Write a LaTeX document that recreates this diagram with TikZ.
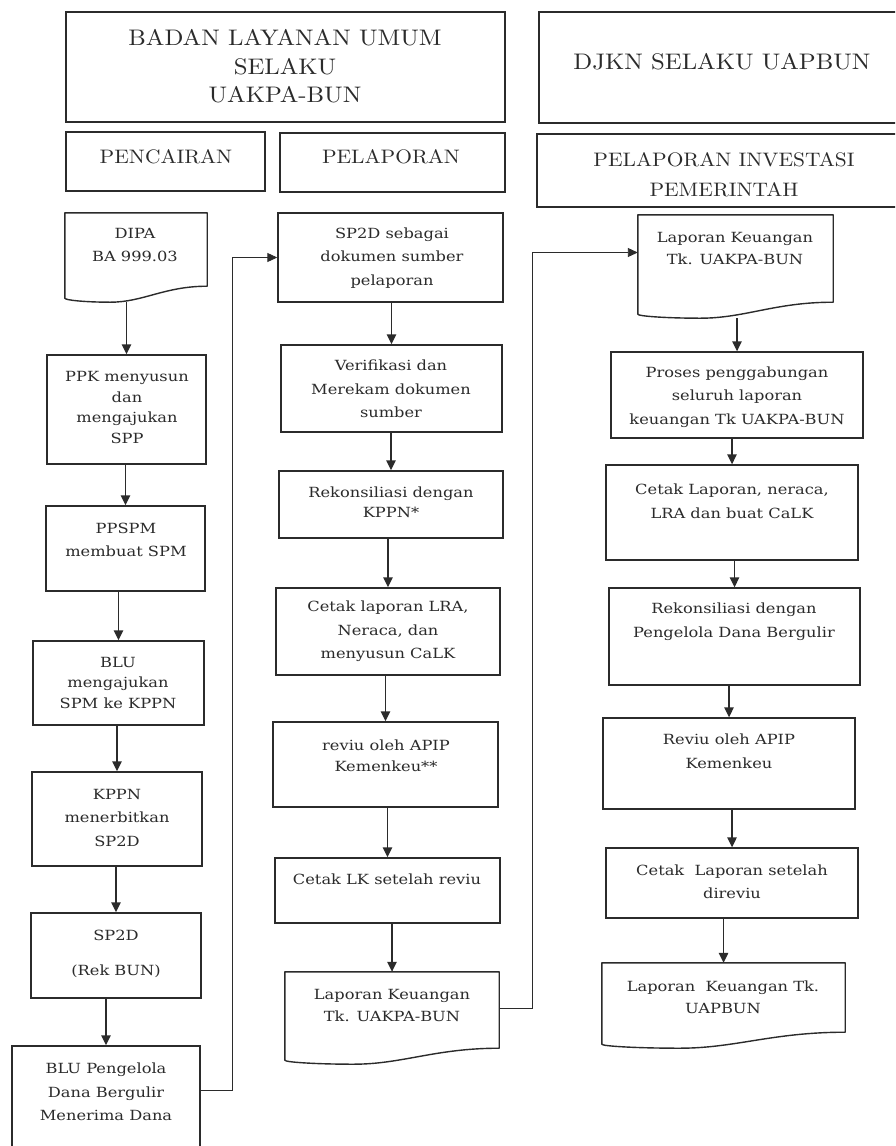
\documentclass[tikz,border=0pt]{standalone}
\usepackage{fontspec}
\newfontfamily\bodyfont{DejaVu Serif}[FakeStretch=1.16]
\newfontfamily\headfont{lmroman10-regular}[Extension=.otf, FakeStretch=1.1]
\usetikzlibrary{arrows.meta,calc}
\definecolor{ink}{HTML}{2B2B2B}
\tikzset{
  box/.style={draw=ink, line width=1.4pt, inner sep=0pt},
  hbox/.style={draw=ink, line width=1.7pt, inner sep=0pt},
  docbox/.style={inner sep=0pt},
  docline/.style={draw=ink, line width=1.4pt, line join=round},
  txt/.style={font=\bodyfont\fontsize{14}{23.5}\selectfont, align=center, text=ink, inner sep=0pt},
  htxt/.style={font=\headfont\fontsize{22.5}{28.5}\selectfont, align=center, text=ink, inner sep=0pt},
  stxt/.style={font=\headfont\fontsize{19.5}{30}\selectfont, align=center, text=ink, inner sep=0pt},
  flow/.style={draw=ink, line width=1.5pt, -{Triangle[length=10pt,width=9.5pt]}},
  backflow/.style={draw=ink, line width=0.9pt, -{Triangle[length=10pt,width=9pt]}}
}
% document symbol: straight top and sides, wavy bottom edge
\newcommand\docoutline[1]{%
  \draw[docline] (#1.north west) -- (#1.north east) -- ($(#1.south east)+(0,-16)$)
    .. controls ($(#1.south east)!0.3!(#1.south west)+(0,-16)$) and ($(#1.south east)!0.45!(#1.south west)$) ..
    ($(#1.south east)!0.68!(#1.south west)$)
    .. controls ($(#1.south east)!0.85!(#1.south west)$) and ($(#1.south west)+(0,-2)$) ..
    ($(#1.south west)+(0,-4)$) -- cycle;}
\begin{document}
\begin{tikzpicture}[x=1pt,y=-1pt]
\useasboundingbox (0,0) rectangle (895,1146);
\fill[white] (0,0) rectangle (895,1146);
\clip (0,0) rectangle (895,1146);

% ---- headers
\node[hbox, minimum width=439, minimum height=110] (hblu) at (285.5,67) {};
\node[htxt] (hblu-t) at (285,66.5) {BADAN LAYANAN UMUM\\SELAKU\\UAKPA-BUN};
\node[hbox, minimum width=366, minimum height=111] (hdjkn) at (722,67.5) {};
\node[htxt] (hdjkn-t) at (722,62) {DJKN SELAKU UAPBUN};
\node[hbox, minimum width=199, minimum height=59] (hpen) at (165.5,161.5) {};
\node[stxt] (hpen-t) at (166,157) {PENCAIRAN};
\node[hbox, minimum width=225, minimum height=59] (hpel) at (392.5,162.5) {};
\node[stxt] (hpel-t) at (391,157) {PELAPORAN};
\node[hbox, minimum width=376, minimum height=73] (hpip) at (725,170.5) {};
\node[stxt] (hpip-t) at (724,175) {PELAPORAN INVESTASI\\PEMERINTAH};

% ---- column 1: pencairan
\node[docbox, minimum width=142, minimum height=89] (dipa) at (136,257.5) {};
\docoutline{dipa}
\node[txt] (dipa-t) at (135,245) {DIPA\\BA 999.03};
\node[box, minimum width=159, minimum height=109] (ppk) at (126.5,409.5) {};
\node[txt] (ppk-t) at (127,407.5) {PPK menyusun\\[-3pt]dan\\[-3pt]mengajukan\\[-3pt]SPP};
\node[box, minimum width=159, minimum height=85] (ppspm) at (125.5,548.5) {};
\node[txt] (ppspm-t) at (126,540) {PPSPM\\membuat SPM};
\node[box, minimum width=171, minimum height=84] (blum) at (118.5,683) {};
\node[txt] (blum-t) at (118,682.5) {BLU\\[-3pt]mengajukan\\[-3pt]SPM ke KPPN};
\node[box, minimum width=170, minimum height=94] (kppn) at (117,819) {};
\node[txt] (kppn-t) at (117,817.5) {KPPN\\menerbitkan\\SP2D};
\node[box, minimum width=170, minimum height=85] (sp2d) at (116,955.5) {};
\node[txt] (sp2d-t) at (116,954) {SP2D\\[12pt](Rek BUN)};
\node[box, minimum width=188, minimum height=104] (blup) at (106,1098) {};
\node[txt] (blup-t) at (106,1092) {BLU Pengelola\\Dana Bergulir\\Menerima Dana};

% ---- column 2: pelaporan
\node[box, minimum width=225, minimum height=89] (sp2ds) at (390.5,257.5) {};
\node[txt] (sp2ds-t) at (392,258) {SP2D sebagai\\dokumen sumber\\pelaporan};
\node[box, minimum width=221, minimum height=87] (verif) at (391.5,388.5) {};
\node[txt] (verif-t) at (391,389) {Verifikasi dan\\Merekam dokumen\\sumber};
\node[box, minimum width=224, minimum height=67] (rekon) at (391,504.5) {};
\node[txt] (rekon-t) at (391,502.5) {Rekonsiliasi dengan\\[-3pt]KPPN*};
\node[box, minimum width=224, minimum height=87] (cetak) at (388,631.5) {};
\node[txt] (cetak-t) at (388,631.5) {Cetak laporan LRA,\\Neraca, dan\\menyusun CaLK};
\node[box, minimum width=225, minimum height=85] (reviu) at (385.5,764.5) {};
\node[txt] (reviu-t) at (386,756) {reviu oleh APIP\\[-2pt]Kemenkeu**};
\node[box, minimum width=225, minimum height=65] (cetlk) at (387.5,890.5) {};
\node[txt] (cetlk-t) at (387,879) {Cetak LK setelah reviu};
\node[docbox, minimum width=214, minimum height=92] (lapa) at (392,1018) {};
\docoutline{lapa}
\node[txt] (lapa-t) at (392,1005.5) {Laporan Keuangan\\[-2pt]Tk. UAKPA-BUN};

% ---- column 3: pelaporan investasi pemerintah
\node[docbox, minimum width=195, minimum height=103] (lapc) at (735.5,266.5) {};
\docoutline{lapc}
\node[txt] (lapc-t) at (735,248.5) {Laporan Keuangan\\[-1pt]Tk. UAKPA-BUN};
\node[box, minimum width=252, minimum height=86] (proses) at (737,395) {};
\node[txt] (proses-t) at (737,397) {Proses penggabungan\\seluruh laporan\\keuangan Tk UAKPA-BUN};
\node[box, minimum width=252, minimum height=95] (cetakl) at (732,512.5) {};
\node[txt] (cetakl-t) at (732,501.5) {Cetak Laporan, neraca,\\LRA dan buat CaLK};
\node[box, minimum width=251, minimum height=97] (rekon3) at (734.5,636.5) {};
\node[txt] (rekon3-t) at (734,621.5) {Rekonsiliasi dengan\\Pengelola Dana Bergulir};
\node[box, minimum width=252, minimum height=91] (reviu3) at (729,763.5) {};
\node[txt] (reviu3-t) at (729,751.5) {Reviu oleh APIP\\Kemenkeu};
\node[box, minimum width=252, minimum height=70] (cetaks) at (732,883) {};
\node[txt] (cetaks-t) at (732,882) {Cetak\ \ Laporan setelah\\direviu};
\node[docbox, minimum width=243, minimum height=85] (lapd) at (723.5,1005.5) {};
\docoutline{lapd}
\node[txt] (lapd-t) at (723,997.5) {Laporan\ \ Keuangan Tk.\\[-2pt]UAPBUN};

% ---- flow arrows, column 1
\draw[flow] (dipa.south -| ppk.north) -- (ppk.north);
\draw[flow] (ppk.south -| ppspm.north) -- (ppspm.north);
\draw[flow] (ppspm.south -| blum.north) -- (blum.north);
\draw[flow] (blum.south -| kppn.north) -- (kppn.north);
\draw[flow] (kppn.south -| sp2d.north) -- (sp2d.north);
\draw[flow] (sp2d.south -| blup.north) -- (blup.north);

% ---- flow arrows, column 2
\draw[flow] (sp2ds.south -| verif.north) -- (verif.north);
\draw[flow] (verif.south -| rekon.north) -- (rekon.north);
\draw[flow] (rekon.south -| cetak.north) -- (cetak.north);
\draw[flow] (cetak.south -| reviu.north) -- (reviu.north);
\draw[flow] (reviu.south -| cetlk.north) -- (cetlk.north);
\draw[flow] (cetlk.south -| lapa.north) -- (lapa.north);

% ---- flow arrows, column 3
\draw[flow] (lapc.south -| proses.north) -- (proses.north);
\draw[flow] (proses.south -| cetakl.north) -- (cetakl.north);
\draw[flow] (cetakl.south -| rekon3.north) -- (rekon3.north);
\draw[flow] (rekon3.south -| reviu3.north) -- (reviu3.north);
\draw[flow] (reviu3.south -| cetaks.north) -- (cetaks.north);
\draw[flow] (cetaks.south -| lapd.north) -- (lapd.north);

% ---- links between columns
\draw[backflow] ([yshift=8pt]blup.east) -- ++(32,0) |- (sp2ds.west);
\draw[backflow] ([yshift=10pt]lapa.east) -- ++(33,0) |- ([yshift=14pt]lapc.west);
\end{tikzpicture}
\end{document}
